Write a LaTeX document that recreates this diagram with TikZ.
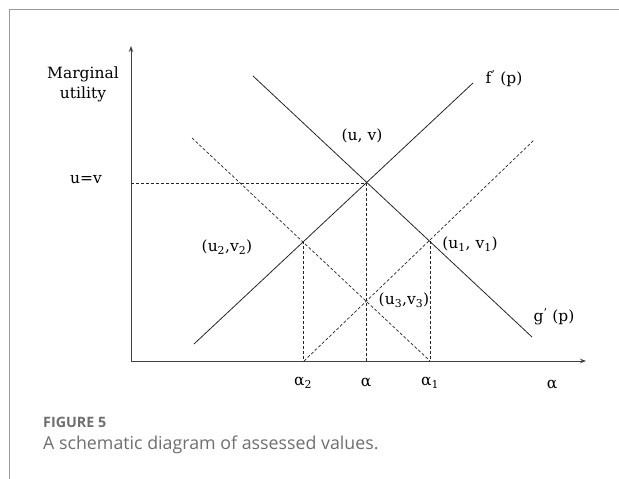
\documentclass[tikz,border=0pt]{standalone}
\usepackage{fontspec}
\setmainfont{DejaVu Serif}
\newfontfamily\capfont{Open Sans}
\usetikzlibrary{arrows.meta}
\definecolor{framegray}{HTML}{9A9A9A}
\definecolor{capgray}{HTML}{6E6E6E}
\begin{document}
\begin{tikzpicture}[x=1pt,y=-1pt,
  solidline/.style={line width=0.8pt,black!85},
  dashline/.style={line width=0.7pt,black!85,dash pattern=on 3pt off 2pt},
  axisline/.style={line width=1pt,black!75,-{Stealth[length=6pt,width=4.5pt]}},
  lbl/.style={font=\fontsize{15.5}{20}\selectfont,inner sep=0pt,align=center},
  caphead/.style={font=\capfont\bfseries\fontsize{14.3}{17}\selectfont,text=capgray,inner sep=0pt,anchor=west},
  captext/.style={font=\capfont\fontsize{17.8}{20}\selectfont,text=capgray,inner sep=0pt,anchor=west}]
\useasboundingbox (0,0) rectangle (619,479);
% frame
\draw[framegray,line width=1pt] (9,479) -- (9,9) -- (619,9);
% coordinates
\coordinate (O) at (131,361);
\coordinate (ytop) at (131,46);
\coordinate (xend) at (586,361);
\coordinate (f1) at (194,344);
\coordinate (f2) at (473,83);
\coordinate (g1) at (253,76);
\coordinate (g2) at (532,337);
\coordinate (df1) at (304,361);
\coordinate (df2) at (534,140);
\coordinate (dg1) at (192,138);
\coordinate (dg2) at (430,361);
\coordinate (P) at (366,183);
\coordinate (P1) at (430,241);
\coordinate (P2) at (303,241);
\coordinate (P3) at (366,302);
\coordinate (A2) at (303,361);
\coordinate (A) at (366,361);
\coordinate (A1) at (430,361);
\coordinate (UV) at (131,183);
% axes
\draw[axisline] (O) -- (ytop);
\draw[axisline] (O) -- (xend);
% curves
\draw[solidline] (f1) -- (f2);
\draw[solidline] (g1) -- (g2);
\draw[dashline] (df1) -- (df2);
\draw[dashline] (dg1) -- (dg2);
% guide lines
\draw[dashline] (UV) -- (P);
\draw[dashline] (P) -- (A);
\draw[dashline] (P1) -- (A1);
\draw[dashline] (P2) -- (A2);
% labels
\node[lbl] (ylab) at (83,84) {Marginal\\utility};
\node[lbl] (uvlab) at (86,180) {u=v};
\node[lbl] (Plab) at (362,136) {(u, v)};
\node[lbl] (P2lab) at (227,247) {(u\textsubscript{2},v\textsubscript{2})};
\node[lbl] (P1lab) at (470,244) {(u\textsubscript{1}, v\textsubscript{1})};
\node[lbl] (P3lab) at (404,300) {(u\textsubscript{3},v\textsubscript{3})};
\node[lbl] (flab) at (504,79) {f\textsuperscript{'} (p)};
\node[lbl] (glab) at (554,317) {g\textsuperscript{'} (p)};
\node[lbl] (a2lab) at (303,383) {α\textsubscript{2}};
\node[lbl] (alab) at (366,383) {α};
\node[lbl] (a1lab) at (430,383) {α\textsubscript{1}};
\node[lbl] (axlab) at (552,385) {α};
% caption
\node[caphead] (fig) at (43,422) {FIGURE 5};
\node[captext] (cap) at (43,445) {A schematic diagram of assessed values.};
\end{tikzpicture}
\end{document}
